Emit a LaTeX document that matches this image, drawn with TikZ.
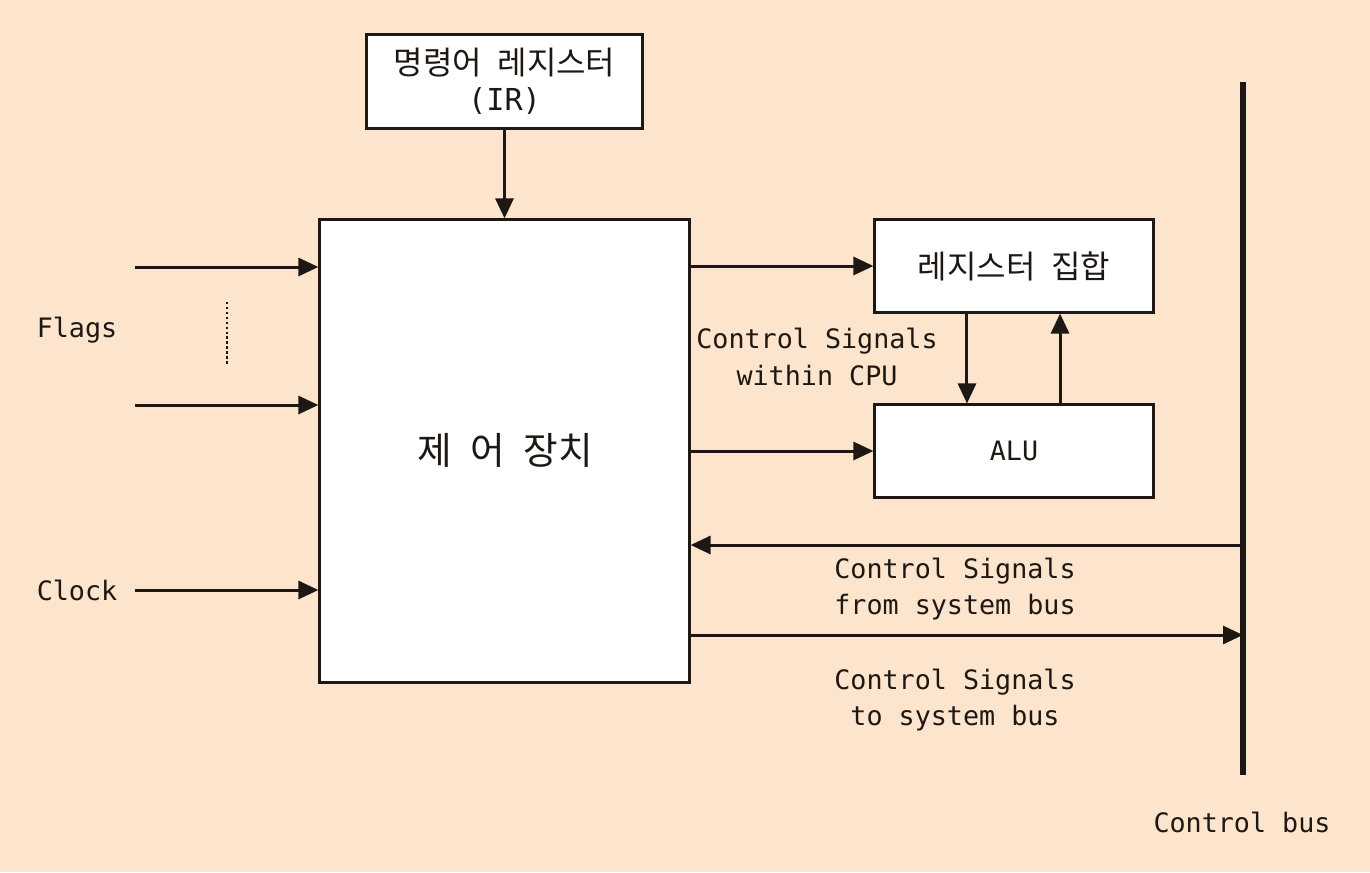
\documentclass[tikz,border=0pt]{standalone}
\usepackage{fontspec}
\setmonofont{DejaVu Sans Mono}
\newfontfamily\kor[WordSpace=2.2]{Noto Sans CJK KR}
\usetikzlibrary{arrows.meta}
\definecolor{peach}{RGB}{253,228,204}
\definecolor{ink}{RGB}{30,24,20}
\tikzset{
  box/.style={draw=ink,fill=white,line width=0.85pt,inner sep=0pt},
  arr/.style={draw=ink,line width=0.85pt,-{Triangle[length=0.2cm,width=0.18cm]}},
  lbl/.style={font=\ttfamily\fontsize{7.6}{10.5}\selectfont,align=center,text=ink},
  klbl/.style={font=\kor\fontsize{9.1}{10.3}\selectfont,align=center,text=ink},
}
\begin{document}
\begin{tikzpicture}[x=0.01cm,y=-0.01cm]
  \fill[peach] (0,0) rectangle (1370,872);
  % boxes
  \node[box,klbl,minimum width=2.75cm,minimum height=0.93cm] at (504.5,81.5) (IR) {명령어 레지스터\\{\ttfamily\fontsize{8.6}{10.3}\selectfont(IR)}};
  \node[box,minimum width=3.69cm,minimum height=4.62cm] at (504.5,451) (CU) {};
  \node[klbl,font=\kor\fontsize{10.7}{12}\selectfont] at (505,450) (CUtext) {제 어 장치};
  \node[box,klbl,minimum width=2.78cm,minimum height=0.92cm] at (1014,266) (Reg) {레지스터 집합};
  \node[box,lbl,minimum width=2.78cm,minimum height=0.92cm] at (1014,451) (ALU) {ALU};
  % inputs
  \coordinate (f1) at (135,267);
  \coordinate (f2) at (135,405);
  \coordinate (clk) at (135,590);
  \node[lbl] at (77,330) (Flags) {Flags};
  \node[lbl] at (77,590) (Clock) {Clock};
  \draw[arr] (IR) -- (CU);
  \draw[arr] (f1) -- (f1 -| CU.west);
  \draw[arr] (f2) -- (f2 -| CU.west);
  \draw[arr] (clk) -- (clk -| CU.west);
  \draw[ink,line width=0.7pt,dash pattern=on 0.7pt off 0.7pt] (227,302) -- (227,366);
  % inside CPU
  \draw[arr] (CU.east |- Reg) -- (Reg.west);
  \draw[arr] (CU.east |- ALU) -- (ALU.west);
  \draw[arr] ([xshift=-0.47cm]Reg.south) -- ([xshift=-0.47cm]ALU.north);
  \draw[arr] ([xshift=0.46cm]ALU.north) -- ([xshift=0.46cm]Reg.south);
  \node[lbl] at (817,357) (within) {Control Signals\\within CPU};
  % control bus
  \coordinate (bt) at (1243,82);
  \coordinate (bb) at (1243,775);
  \draw[ink,line width=1.7pt] (bt) -- (bb);
  \node[lbl] at (1242,822) (bus) {Control bus};
  \coordinate (busin) at (1243,545);
  \coordinate (cuout) at (689,635);
  \draw[arr] (busin) -- (busin -| CU.east);
  \draw[arr] (cuout) -- (cuout -| bt);
  \node[lbl] at (955,589) (from) {Control Signals\\from system bus};
  \node[lbl] at (955,700) (to) {Control Signals\\to system bus};
\end{tikzpicture}
\end{document}
